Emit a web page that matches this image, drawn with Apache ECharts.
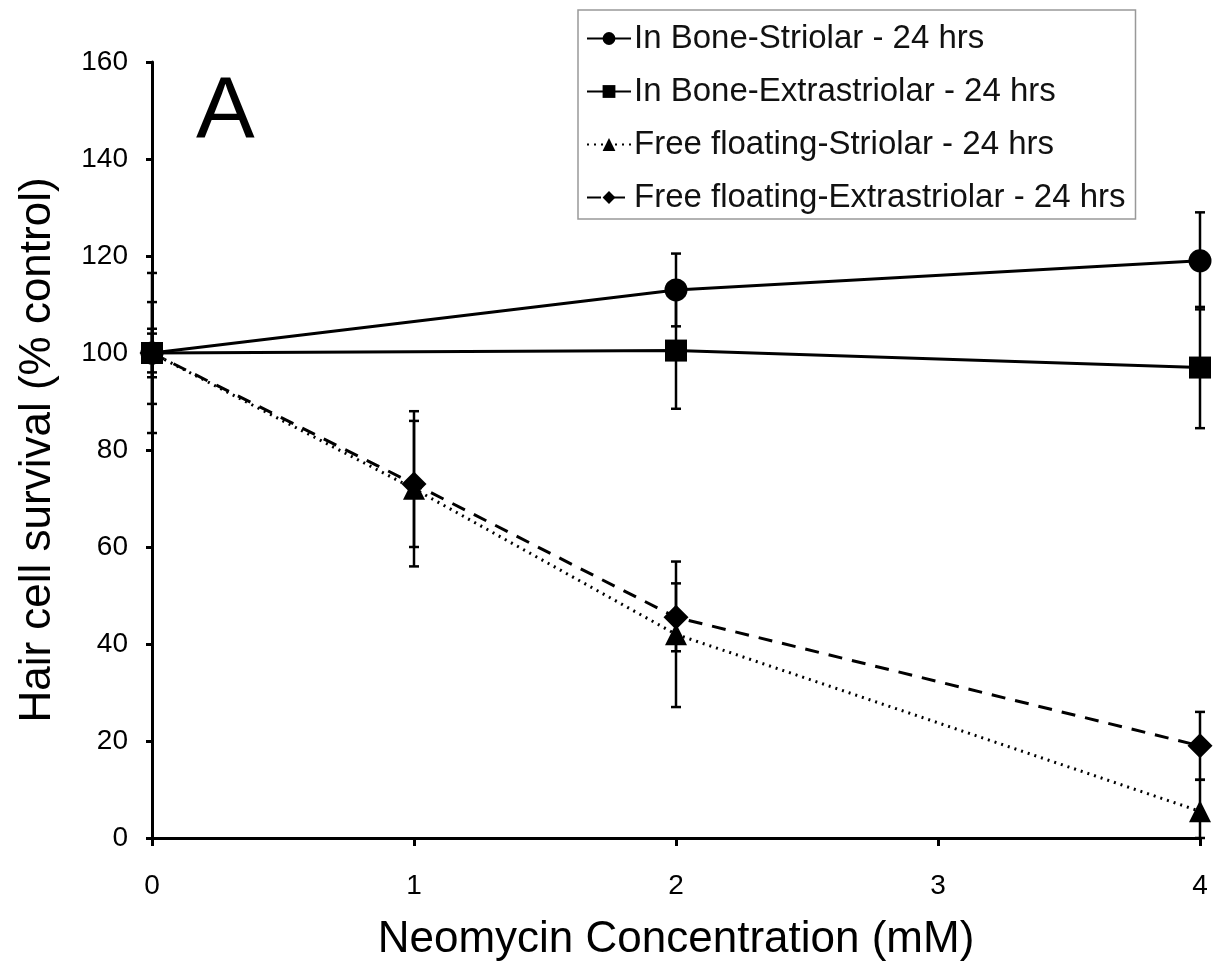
<!DOCTYPE html>
<html><head><meta charset="utf-8">
<script src="https://cdn.jsdelivr.net/npm/echarts@6/dist/echarts.min.js"></script>
<style>html,body{margin:0;padding:0;background:#fff}#c{width:1217px;height:973px}</style>
</head><body><div id="c"></div>
<script>
const xTicks = [0, 1, 2, 3, 4];
const boneX = [0, 2, 4];
const freeX = [0, 1, 2, 4];
const boneStriolar = [100, 113, 119];
const boneStriolarErr = [10.5, 7.5, 10];
const boneExtra = [100, 100.5, 97];
const boneExtraErr = [16.5, 12, 12.5];
const freeStriolar = [100, 72, 42, 5.5];
const freeStriolarErr = [5, 16, 15, 6.5];
const freeExtra = [100, 73, 45.5, 19];
const freeExtraErr = [4, 13, 7, 7];
const names = ['In Bone-Striolar - 24 hrs','In Bone-Extrastriolar - 24 hrs','Free floating-Striolar - 24 hrs','Free floating-Extrastriolar - 24 hrs'];

const font = 'Liberation Sans, Arial, Helvetica, sans-serif';
function pts(xs, ys){ return xs.map((x,i)=>[x, ys[i]]); }
function errData(xs, ys, es){ return xs.map((x,i)=>[x, Math.max(0, ys[i]-es[i]), ys[i]+es[i]]); }
function errSeries(data){
  return {
    type:'custom', data: data, z: 1, silent:true,
    renderItem: function(params, api){
      const x = api.value(0);
      const lo = api.coord([x, api.value(1)]);
      const hi = api.coord([x, api.value(2)]);
      const w = 5;
      const st = {stroke:'#000', lineWidth:2.5};
      return {type:'group', children:[
        {type:'line', shape:{x1:lo[0],y1:lo[1],x2:hi[0],y2:hi[1]}, style:st},
        {type:'line', shape:{x1:lo[0]-w,y1:lo[1],x2:lo[0]+w,y2:lo[1]}, style:st},
        {type:'line', shape:{x1:hi[0]-w,y1:hi[1],x2:hi[0]+w,y2:hi[1]}, style:st}
      ]};
    }
  };
}
function lineSeries(name, data, symbol, size, type){
  return {
    name: name, type:'line', data: data, symbol: symbol, symbolSize: size,
    z: 3, color:'#000',
    itemStyle:{color:'#000'},
    lineStyle:{color:'#000', width: 3, type: type},
    animation:false
  };
}
const chart = echarts.init(document.getElementById('c'));
chart.setOption({
  animation:false,
  backgroundColor:'#fff',
  grid:{left:152, top:62, width:1048, height:776, containLabel:false},
  xAxis:{
    type:'value', min:0, max:4, interval:1,
    name:'Neomycin Concentration (mM)', nameLocation:'middle', nameGap:80,
    nameTextStyle:{fontSize:44, color:'#000', fontFamily:font},
    axisLine:{lineStyle:{color:'#000', width:3}},
    axisTick:{show:true, length:8, lineStyle:{color:'#000', width:3}},
    axisLabel:{fontSize:28, color:'#000', fontFamily:font, margin:34,
      formatter: v => xTicks.indexOf(v) >= 0 ? String(v) : ''},
    splitLine:{show:false}
  },
  yAxis:{
    type:'value', min:0, max:160, interval:20,
    name:'Hair cell survival (% control)', nameLocation:'middle', nameGap:92,
    nameTextStyle:{fontSize:44, color:'#000', fontFamily:font},
    axisLine:{show:true, lineStyle:{color:'#000', width:3}},
    axisTick:{show:true, length:6, lineStyle:{color:'#000', width:3}},
    axisLabel:{fontSize:28, color:'#000', fontFamily:font, margin:24},
    splitLine:{show:false}
  },
  legend:{
    orient:'vertical', left:578, top:10,
    backgroundColor:'#fff', borderColor:'#999', borderWidth:1.5,
    padding:[12, 10, 5, 8], itemGap:20, itemWidth:44, itemHeight:16,
    textStyle:{fontSize:33, color:'#111', fontFamily:font, padding:[0,0,0,-2]},
    data: names
  },
  graphic:[{type:'text', left:196, top:70, style:{text:'A', fontSize:88, fill:'#000', fontFamily:font}}],
  series:[
    errSeries(errData(boneX, boneStriolar, boneStriolarErr)),
    errSeries(errData(boneX, boneExtra, boneExtraErr)),
    errSeries(errData(freeX, freeStriolar, freeStriolarErr)),
    errSeries(errData(freeX, freeExtra, freeExtraErr)),
    lineSeries(names[0], pts(boneX, boneStriolar), 'circle', 23, 'solid'),
    lineSeries(names[1], pts(boneX, boneExtra), 'rect', 22, 'solid'),
    lineSeries(names[2], pts(freeX, freeStriolar), 'triangle', 22, [2,5]),
    lineSeries(names[3], pts(freeX, freeExtra), 'diamond', 25, [14,10])
  ]
});
</script></body></html>
